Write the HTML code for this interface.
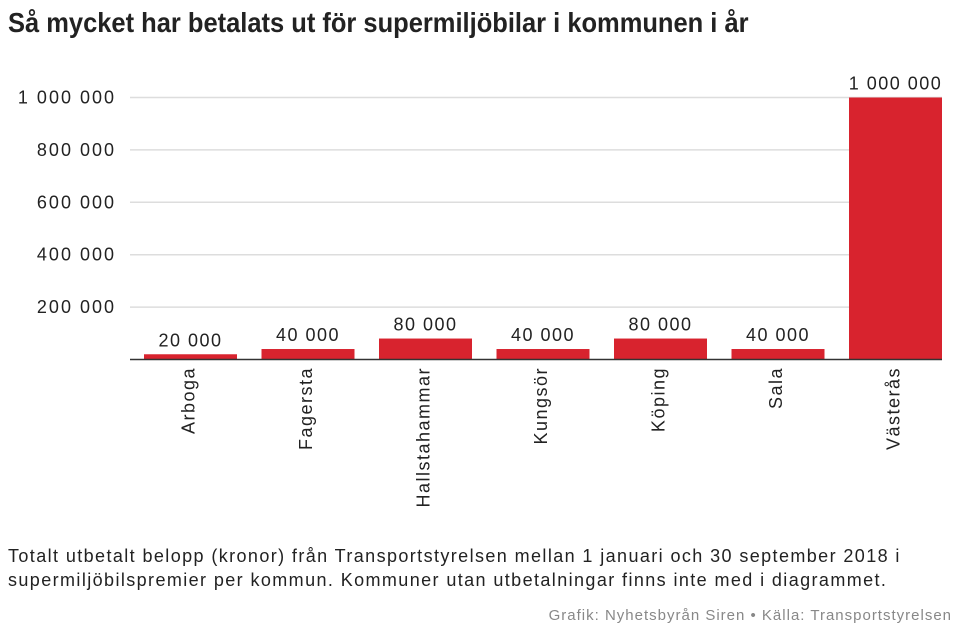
<!DOCTYPE html>
<html><head><meta charset="utf-8"><style>
body{margin:0;background:#fff;width:960px;height:640px;overflow:hidden;font-family:"Liberation Sans",sans-serif;color:#222}
#title{position:absolute;left:8px;top:7px;font-size:28px;font-weight:bold;font-family:"Liberation Sans",sans-serif;transform:scaleX(0.91);transform-origin:left;white-space:nowrap;color:#222}
#note{position:absolute;left:8px;top:544px;font-size:18px;letter-spacing:1.4px;line-height:24px;color:#222;white-space:nowrap}
#credit{position:absolute;right:8px;top:607px;font-size:15px;letter-spacing:1px;color:#888;white-space:nowrap}
</style></head><body>
<div id="title">Så mycket har betalats ut för supermiljöbilar i kommunen i år</div>
<svg id="chart" width="960" height="540" style="position:absolute;left:0;top:0"></svg>
<div id="note">Totalt utbetalt belopp (kronor) från Transportstyrelsen mellan 1 januari och 30 september 2018 i<br>supermiljöbilspremier per kommun. Kommuner utan utbetalningar finns inte med i diagrammet.</div>
<div id="credit">Grafik: Nyhetsbyrån Siren • Källa: Transportstyrelsen</div>
<script>
const categories=["Arboga","Fagersta","Hallstahammar","Kungsör","Köping","Sala","Västerås"];
const values=[20000,40000,80000,40000,80000,40000,1000000];
const ticks=[200000,400000,600000,800000,1000000];
const tickLabels=["200 000","400 000","600 000","800 000","1 000 000"];
const valueLabels=["20 000","40 000","80 000","40 000","80 000","40 000","1 000 000"];
const svg=document.getElementById('chart');const NS="http://www.w3.org/2000/svg";
const x0=130,x1=942,y0=359.5,yTop=97.5,maxV=1000000;
const y=v=>y0-(y0-yTop)*v/maxV;
const step=117.5,bw=93,firstCenter=190.5;
const xc=i=>firstCenter+step*i;
const FF='Liberation Sans, sans-serif';
function mk(t,a){const e=document.createElementNS(NS,t);for(const k in a)e.setAttribute(k,a[k]);svg.appendChild(e);return e;}
ticks.forEach((t,i)=>{
 const g=mk('line',{x1:x0,x2:x1,y1:y(t),y2:y(t),stroke:'#ddd','stroke-width':1.5});
 
 
 const l=mk('text',{x:116,y:y(t)+6,'text-anchor':'end','font-size':18,'letter-spacing':2,fill:'#222','font-family':FF});
 l.textContent=tickLabels[i];
 
 
});
categories.forEach((c,i)=>{
 const b=mk('rect',{x:xc(i)-bw/2,y:y(values[i]),width:bw,height:y0-y(values[i]),fill:'#d8232e'});
 
 
 const v=mk('text',{x:xc(i),y:y(values[i])-8,'text-anchor':'middle','font-size':18,'letter-spacing':1.5,fill:'#222','font-family':FF});
 v.textContent=valueLabels[i];
 
 
 const cx=xc(i)+4,cy=367;
 const t=mk('text',{x:cx,y:cy,'text-anchor':'end','font-size':18,'letter-spacing':1.5,fill:'#222',transform:`rotate(-90 ${cx} ${cy})`,'font-family':FF});
 t.textContent=c;
 
 
});
const ax=mk('line',{x1:x0,x2:x1,y1:y0,y2:y0,stroke:'#333','stroke-width':1.5});


</script>
</body></html>
